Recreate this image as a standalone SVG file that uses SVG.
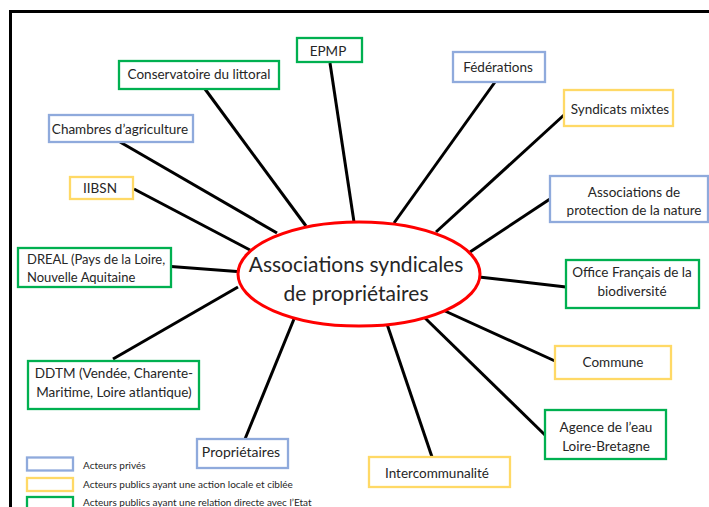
<svg xmlns="http://www.w3.org/2000/svg" width="709" height="507" viewBox="0 0 709 507">
<style>
text{font-family:Lato,"Liberation Sans",sans-serif;fill:#262626;font-size:13.5px}
.m{text-anchor:middle}
.box{fill:#fff;stroke-width:2.3}
.blue{stroke:#8faadc}
.yellow{stroke:#ffd966}
.green{stroke:#00b050}
#connectors line{stroke:#000;stroke-width:3;stroke-linecap:butt}
.leg{font-size:10px}
</style>
<rect width="709" height="507" fill="#fff"/>
<path d="M10.5 507V11.5H709" fill="none" stroke="#000" stroke-width="3"/>
<g id="connectors">
<line x1="330" y1="63" x2="354" y2="222"/>
<line x1="205" y1="89" x2="306" y2="226"/>
<line x1="120" y1="142" x2="277" y2="233"/>
<line x1="134" y1="189" x2="250" y2="250"/>
<line x1="171" y1="266.5" x2="237" y2="271.5"/>
<line x1="113" y1="359" x2="238" y2="287"/>
<line x1="245" y1="439" x2="294" y2="319"/>
<line x1="432" y1="457" x2="387" y2="324"/>
<line x1="545" y1="435" x2="425" y2="318"/>
<line x1="555" y1="361" x2="445" y2="311"/>
<line x1="566" y1="287" x2="479" y2="277"/>
<line x1="550" y1="199" x2="470" y2="252"/>
<line x1="564" y1="115" x2="436" y2="232"/>
<line x1="495" y1="82" x2="394" y2="223"/>
</g>
<g id="center">
<ellipse cx="359" cy="274" rx="121" ry="52" fill="#fff" stroke="#ff0000" stroke-width="3"/>
<text class="m" x="356" y="272" style="font-size:21px">Associations syndicales</text>
<text class="m" x="356" y="301" style="font-size:21px">de propriétaires</text>
</g>
<g id="epmp"><rect class="box green" x="297" y="38" width="65" height="24"/><text class="m" x="328" y="56">EPMP</text></g>
<g id="conservatoire"><rect class="box green" x="119" y="61" width="160" height="28"/><text class="m" x="199" y="79">Conservatoire du littoral</text></g>
<g id="chambres"><rect class="box blue" x="49" y="115" width="144" height="27"/><text class="m" x="120" y="134">Chambres d’agriculture</text></g>
<g id="federations"><rect class="box blue" x="453" y="52" width="92" height="30"/><text class="m" x="498" y="72">Fédérations</text></g>
<g id="syndicats"><rect class="box yellow" x="564" y="90" width="109" height="36"/><text class="m" x="620" y="114">Syndicats mixtes</text></g>
<g id="iibsn"><rect class="box yellow" x="70" y="177" width="63" height="22"/><text class="m" x="100" y="193">IIBSN</text></g>
<g id="dreal"><rect class="box green" x="18" y="248" width="153" height="39"/><text x="27" y="264" style="font-size:13px">DREAL (Pays de la Loire,</text><text x="27" y="282" style="font-size:13px">Nouvelle Aquitaine</text></g>
<g id="apn"><rect class="box blue" x="550" y="176" width="158" height="46"/><text class="m" x="634" y="197">Associations de</text><text class="m" x="634" y="215">protection de la nature</text></g>
<g id="ofb"><rect class="box green" x="566" y="260" width="133" height="48"/><text class="m" x="632" y="277">Office Français de la</text><text class="m" x="632" y="296">biodiversité</text></g>
<g id="ddtm"><rect class="box green" x="28" y="361" width="171" height="48"/><text class="m" x="114" y="378">DDTM (Vendée, Charente-</text><text class="m" x="114" y="397">Maritime, Loire atlantique)</text></g>
<g id="proprietaires"><rect class="box blue" x="197" y="439" width="91" height="29"/><text class="m" x="241" y="457" style="font-size:14px">Propriétaires</text></g>
<g id="commune"><rect class="box yellow" x="555" y="346" width="116" height="33"/><text class="m" x="613" y="367">Commune</text></g>
<g id="agence"><rect class="box green" x="545" y="410" width="121" height="49"/><text class="m" x="606" y="432">Agence de l’eau</text><text class="m" x="606" y="451">Loire-Bretagne</text></g>
<g id="intercommunalite"><rect class="box yellow" x="369" y="457" width="141" height="30"/><text class="m" x="437" y="478">Intercommunalité</text></g>
<g id="legend">
<rect class="box blue" x="27" y="457.5" width="46" height="13"/><text class="leg" x="83" y="469">Acteurs privés</text>
<rect class="box yellow" x="27" y="478" width="46" height="13"/><text class="leg" x="83" y="487.5">Acteurs publics ayant une action locale et ciblée</text>
<rect class="box green" x="27" y="497" width="46" height="13"/><text class="leg" x="83" y="506">Acteurs publics ayant une relation directe avec l’Etat</text>
</g>
</svg>
